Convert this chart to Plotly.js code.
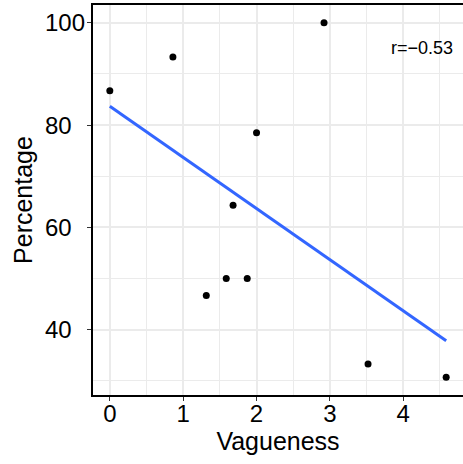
<!DOCTYPE html>
<html>
<head>
<meta charset="utf-8">
<script src="https://cdn.plot.ly/plotly-3.0.1.min.js"></script>
<style>html,body{margin:0;padding:0;background:#fff;}#chart{width:463px;height:464px;}</style>
</head>
<body>
<div id="chart"></div>
<script>
// Data
const vagueness = [0, 0.86, 2.92, 2.0, 1.68, 1.315, 1.587, 1.873, 3.52, 4.585];
const percentage = [86.7, 93.3, 100, 78.5, 64.3, 46.7, 50, 50, 33.3, 30.7];
const yTickValues = [40, 60, 80, 100];
const xTickValues = [0, 1, 2, 3, 4];
const xMinorValues = [0.5, 1.5, 2.5, 3.5, 4.5];
const yMinorValues = [30, 50, 70, 90];
const corrLabelPos = {x: 4.25, y: 95};

// Least squares fit (geom_smooth method = lm)
const n = vagueness.length;
const mx = vagueness.reduce((a, b) => a + b, 0) / n;
const my = percentage.reduce((a, b) => a + b, 0) / n;
let sxy = 0, sxx = 0, syy = 0;
for (let i = 0; i < n; i++) {
  sxy += (vagueness[i] - mx) * (percentage[i] - my);
  sxx += (vagueness[i] - mx) ** 2;
  syy += (percentage[i] - my) ** 2;
}
const slope = sxy / sxx;
const intercept = my - slope * mx;
const r = sxy / Math.sqrt(sxx * syy);
const xmin = Math.min(...vagueness), xmax = Math.max(...vagueness);
const fitX = [xmin, xmax];
const fitY = fitX.map(x => intercept + slope * x);

const xr = xmax - xmin, yr = Math.max(...percentage) - Math.min(...percentage);
const xRange = [xmin - 0.05 * xr, xmax + 0.05 * xr];
const yRange = [Math.min(...percentage) - 0.05 * yr, Math.max(...percentage) + 0.05 * yr];

const font = 'Liberation Sans, Arial, sans-serif';
const grid = '#ebebeb';

const traces = [
  {x: vagueness, y: percentage, type: 'scatter', mode: 'markers',
   marker: {color: '#000000', size: 7}, hoverinfo: 'skip'},
  {x: fitX, y: fitY, type: 'scatter', mode: 'lines',
   line: {color: '#3366FF', width: 3}, hoverinfo: 'skip'}
];

const annotations = yTickValues.map(v => ({
  xref: 'paper', yref: 'y', x: (42.5 - 93) / 370, y: v,
  xanchor: 'left', yanchor: 'middle', showarrow: false,
  text: String(v), font: {family: font, size: 24, color: '#000000'}
}));
annotations.push({
  xref: 'x', yref: 'y', x: corrLabelPos.x, y: corrLabelPos.y,
  xanchor: 'center', yanchor: 'middle', showarrow: false,
  text: 'r=' + r.toFixed(2).replace('-', '\u2212'),
  font: {family: font, size: 18, color: '#000000'}
});

const layout = {
  width: 463, height: 464,
  margin: {l: 93, r: 0, t: 5, b: 69, pad: 0},
  paper_bgcolor: '#ffffff', plot_bgcolor: '#ffffff',
  showlegend: false,
  hovermode: false,
  font: {family: font, color: '#000000'},
  xaxis: {
    range: xRange, tickvals: xTickValues, ticktext: xTickValues.map(String),
    tickfont: {family: font, size: 24, color: '#000000'},
    ticks: 'outside', ticklen: 4, tickwidth: 1, tickcolor: '#333333',
    ticklabelstandoff: -8,
    showgrid: true, gridcolor: grid, gridwidth: 2,
    minor: {tickvals: xMinorValues, showgrid: true, gridcolor: grid, gridwidth: 1, ticks: ''},
    showline: true, linecolor: '#000000', linewidth: 2, mirror: true,
    zeroline: false, showspikes: false,
    title: {text: 'Vagueness', font: {family: font, size: 25, color: '#000000'}, standoff: 6}
  },
  yaxis: {
    range: yRange, tickvals: yTickValues, showticklabels: false,
    ticks: 'outside', ticklen: 4, tickwidth: 1, tickcolor: '#333333',
    showgrid: true, gridcolor: grid, gridwidth: 2,
    minor: {tickvals: yMinorValues, showgrid: true, gridcolor: grid, gridwidth: 1, ticks: ''},
    showline: true, linecolor: '#000000', linewidth: 2,
    zeroline: false, showspikes: false,
    title: {text: 'Percentage', font: {family: font, size: 25, color: '#000000'}, standoff: 47}
  },
  annotations: annotations
};

Plotly.newPlot('chart', traces, layout, {displayModeBar: false, staticPlot: true});
</script>
</body>
</html>
